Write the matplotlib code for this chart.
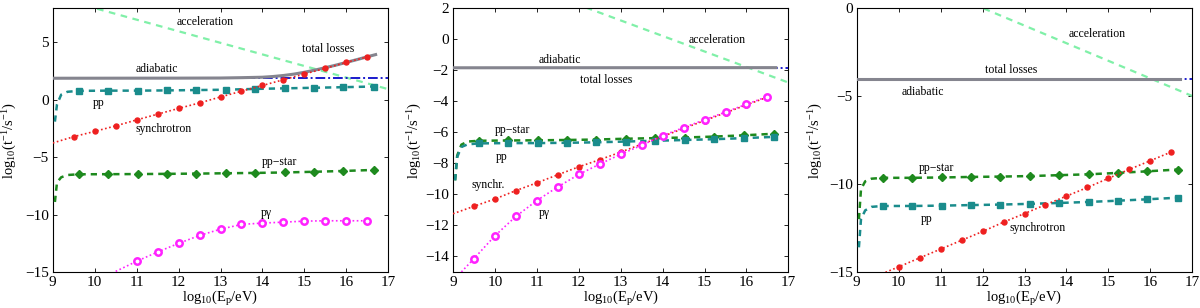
import matplotlib

matplotlib.use("Agg")
import matplotlib.pyplot as plt

plt.rcParams["font.family"] = ["Liberation Serif", "DejaVu Serif"]
plt.rcParams["mathtext.fontset"] = "custom"
plt.rcParams["mathtext.rm"] = "Liberation Serif"
plt.rcParams["mathtext.it"] = "Liberation Serif:italic"

# shared energy grids, log10(E_p / eV)
E_half = [9.5, 10, 10.5, 11, 11.5, 12, 12.5, 13, 13.5, 14, 14.5, 15, 15.5, 16, 16.5]
E_start = [9.05, 9.1, 9.2, 9.35]
E_mark = [9.62, 10.32, 11.03, 11.72, 12.42, 13.12, 13.82, 14.53, 15.23, 15.93, 16.65]
E_acc = [9, 17]
E_adi = [9, 17]

# panel 1
p1_acc = [9.0, 0.93]
p1_adi = [1.88, 1.88]
p1_tot_E = [9, 12, 13, 13.5, 14, 14.25, 14.5, 14.75, 15, 15.25, 15.5, 15.75, 16, 16.25, 16.5, 16.7]
p1_tot = [1.88, 1.89, 1.9, 1.93, 1.97, 2.03, 2.12, 2.24, 2.4, 2.59, 2.8, 3.02, 3.26, 3.5, 3.75, 3.94]
p1_sync_E = [9.0] + E_half
p1_sync = [-3.76, -3.21, -2.75, -2.27, -1.75, -1.25, -0.75, -0.27, 0.25, 0.75, 1.25,
           1.75, 2.25, 2.74, 3.26, 3.74]
p1_pp = [-1.9, -0.4, 0.45, 0.7,
         0.78, 0.8, 0.8, 0.82, 0.85, 0.88, 0.95, 1.0, 1.05, 1.1, 1.16]
p1_ppstar = [-8.9, -7.2, -6.75, -6.55,
             -6.49, -6.48, -6.47, -6.45, -6.43, -6.4, -6.37, -6.33, -6.27, -6.2, -6.11]
p1_pg_E = [10.5, 11, 11.5, 12, 12.5, 13, 13.5, 14, 14.5, 15, 15.5, 16, 16.5]
p1_pg = [-14.95, -14.07, -13.26, -12.51, -11.82, -11.27, -10.86, -10.74, -10.66,
         -10.57, -10.54, -10.54, -10.54]

# panel 2
p2_acc = [5.2, -2.8]
p2_adi = [-1.85, -1.85]
p2_tot_E = [9, 16.7]
p2_tot = [-1.85, -1.84]
p2_sync_E = [9.0] + E_half
p2_sync = [-11.25, -10.77, -10.3, -9.76, -9.26, -8.74, -8.23, -7.77, -7.28, -6.77,
           -6.27, -5.76, -5.25, -4.75, -4.24, -3.74]
p2_pp = [-9.1, -7.6, -6.95, -6.78,
         -6.72, -6.7, -6.7, -6.68, -6.65, -6.6, -6.55, -6.5, -6.45, -6.38, -6.3]
p2_ppstar = [-9.1, -7.5, -6.8, -6.6,
             -6.55, -6.53, -6.52, -6.5, -6.47, -6.42, -6.38, -6.34, -6.28, -6.2, -6.1]
p2_pg_E = [9.2] + E_half
p2_pg = [-15.0, -14.14, -12.67, -11.42, -10.4, -9.52, -8.72, -8.05, -7.42, -6.84,
         -6.22, -5.7, -5.2, -4.7, -4.2, -3.7]

# panel 3
p3_acc = [3.0, -5.0]
p3_adi = [-4.05, -4.05]
p3_tot_E = [9, 16.7]
p3_tot = [-4.05, -4.05]
p3_sync_E = E_half
p3_sync = [-15.2, -14.71, -14.2, -13.7, -13.2, -12.7, -12.17, -11.68, -11.18, -10.69,
           -10.2, -9.68, -9.17, -8.68, -8.18]
p3_pp = [-13.6, -12.0, -11.5, -11.3,
         -11.25, -11.25, -11.23, -11.2, -11.17, -11.13, -11.08, -11.02, -10.95, -10.87, -10.78]
p3_ppstar = [-12.0, -10.3, -9.85, -9.7,
             -9.65, -9.65, -9.63, -9.6, -9.58, -9.55, -9.5, -9.45, -9.37, -9.28, -9.18]

C_ACC = "#80f0a8"
C_ADI = "#1a1acc"
C_TOT = "#85858f"
C_PP = "#1a8c8c"
C_PPS = "#1e8a1e"
C_SYN = "#ee2020"
C_PG = "#ff22ff"

E_pp = E_start + E_mark


def base(ax, acc, adi, tot_E, tot):
    ax.plot(E_acc, acc, color=C_ACC, lw=1.6, dashes=(3, 2.5), zorder=2)
    ax.plot(E_adi, adi, color=C_ADI, lw=1.4, dashes=(5, 1.5, 1, 1.5), zorder=3)
    ax.plot(tot_E, tot, color=C_TOT, lw=2.2, zorder=4)


def pp_lines(ax, pp, ppstar):
    ax.plot(E_pp, ppstar, color=C_PPS, lw=1.8, dashes=(2.5, 2), marker="D", ms=4.5,
            mfc=C_PPS, mec=C_PPS, markevery=slice(4, None), zorder=5)
    ax.plot(E_pp, pp, color=C_PP, lw=1.8, dashes=(2.5, 2), marker="s", ms=4,
            mfc=C_PP, mec=C_PP, markevery=slice(4, None), zorder=5)


def sync_line(ax, E, y, skip):
    ax.plot(E, y, color=C_SYN, lw=1.2, ls=(0, (1, 1.5)), marker="o", ms=3.6,
            mfc=C_SYN, mec=C_SYN, markevery=slice(skip, None), zorder=6)


def pg_line(ax, E, y, skip):
    ax.plot(E, y, color=C_PG, lw=1.2, ls=(0, (1, 1.5)), marker="o", ms=4.6,
            mfc="white", mec=C_PG, mew=1.8, markevery=slice(skip, None), zorder=7)


def style(ax, ylim, yticks, labx):
    ax.set_xlim(9, 17)
    ax.set_ylim(*ylim)
    ax.set_xticks(range(9, 18))
    ax.set_yticks(yticks)
    ax.tick_params(direction="in", top=True, right=True, labelsize=11, length=3,
                   width=0.6, pad=3)
    for s in ax.spines.values():
        s.set_linewidth(0.8)
    ax.set_xlabel(r"log$_{10}$(E$_{\rm p}$/eV)", fontsize=10.5, labelpad=0)
    ax.set_ylabel(r"log$_{10}$(t$^{-1}$/s$^{-1}$)", fontsize=10.5)
    ax.yaxis.set_label_coords(labx, 0.5)


def note(ax, x, y, s):
    ax.text(x, y, s, fontsize=8.5, ha="center", va="center", zorder=10)


fig = plt.figure(figsize=(12, 3.08), dpi=100)
bottom, height, width = 0.117, 0.857, 0.2795
ax1 = fig.add_axes([0.044, bottom, width, height])
ax2 = fig.add_axes([0.3775, bottom, width, height])
ax3 = fig.add_axes([0.714, bottom, width, height])

base(ax1, p1_acc, p1_adi, p1_tot_E, p1_tot)
pp_lines(ax1, p1_pp, p1_ppstar)
sync_line(ax1, p1_sync_E, p1_sync, 1)
pg_line(ax1, p1_pg_E, p1_pg, 1)
style(ax1, (-15, 8), [-15, -10, -5, 0, 5], -0.1)
note(ax1, 12.64, 6.8, "acceleration")
note(ax1, 15.57, 4.4, "total losses")
note(ax1, 11.48, 2.72, "adiabatic")
note(ax1, 10.09, -0.3, "pp")
note(ax1, 11.64, -2.55, "synchrotron")
note(ax1, 14.4, -5.44, "pp\u2212star")
note(ax1, 14.1, -9.9, "p\u03b3")

base(ax2, p2_acc, p2_adi, p2_tot_E, p2_tot)
pp_lines(ax2, p2_pp, p2_ppstar)
sync_line(ax2, p2_sync_E, p2_sync, 1)
pg_line(ax2, p2_pg_E, p2_pg, 1)
style(ax2, (-15, 2), list(range(-14, 3, 2)), -0.085)
note(ax2, 15.3, -0.05, "acceleration")
note(ax2, 11.55, -1.34, "adiabatic")
note(ax2, 12.66, -2.64, "total losses")
note(ax2, 10.43, -5.83, "pp\u2212star")
note(ax2, 10.15, -7.6, "pp")
note(ax2, 9.84, -9.4, "synchr.")
note(ax2, 11.18, -11.2, "p\u03b3")

base(ax3, p3_acc, p3_adi, p3_tot_E, p3_tot)
pp_lines(ax3, p3_pp, p3_ppstar)
sync_line(ax3, p3_sync_E, p3_sync, 1)
style(ax3, (-15, 0), [-15, -10, -5, 0], -0.095)
note(ax3, 14.73, -1.48, "acceleration")
note(ax3, 12.68, -3.51, "total losses")
note(ax3, 10.57, -4.8, "adiabatic")
note(ax3, 10.89, -9.11, "pp\u2212star")
note(ax3, 10.67, -12.0, "pp")
note(ax3, 13.32, -12.53, "synchrotron")

fig.savefig("out.png", dpi=100, facecolor="white")
